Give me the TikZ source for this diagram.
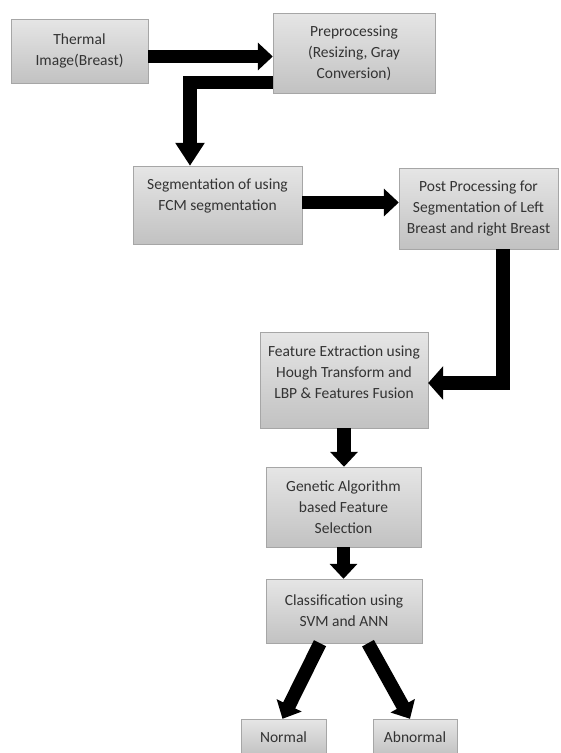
\documentclass[tikz,border=0pt]{standalone}
\usepackage{fontspec}
\setmainfont{Carlito}
\usetikzlibrary{arrows.meta}
\begin{document}
\begin{tikzpicture}[x=1pt,y=-1pt,
  every node/.style={font=\fontsize{15.5}{21}\selectfont,text=black!80},
  stage/.style={draw=black!35,top color=black!10,bottom color=black!24,align=center,inner sep=0pt},
  flow/.style={line width=13.5pt,-{Triangle[width=27pt,length=15pt]}}]
  \clip (0,0) rectangle (561,753);
  \node[stage,minimum width=137pt,minimum height=64pt] (thermal) at (79.5,51) {Thermal\\Image(Breast)};
  \node[stage,minimum width=162pt,minimum height=80pt] (prep) at (354,53) {Preprocessing\\(Resizing, Gray\\Conversion)};
  \node[stage,minimum width=169pt,text height=44pt,text depth=34pt] (seg) at (217.5,205) {Segmentation of using\\FCM segmentation};
  \node[stage,minimum width=159pt,minimum height=81pt] (post) at (478.5,208.5) {Post Processing for\\Segmentation of Left\\Breast and right Breast};
  \node[stage,minimum width=168pt,text height=66pt,text depth=30pt] (feat) at (344,380) {Feature Extraction using\\Hough Transform and\\LBP \& Features Fusion};
  \node[stage,minimum width=155pt,minimum height=80pt] (gen) at (343.5,507) {Genetic Algorithm\\based Feature\\Selection};
  \node[stage,minimum width=156pt,minimum height=64pt] (cls) at (344,611) {Classification using\\SVM and ANN};
  \node[stage,minimum width=85pt,minimum height=36pt] (normal) at (283.5,737) {Normal};
  \node[stage,minimum width=84pt,minimum height=36pt] (abnormal) at (415,737) {Abnormal};
  % block arrows
  \draw[flow] ([yshift=-5.5pt]thermal.east) -- ([yshift=-5.5pt]thermal.east -| prep.west);
  \draw[flow,-{Triangle[width=28pt,length=23pt]}] ([yshift=-29.5pt]prep.west) -| ([xshift=-27.5pt]seg.north);
  \draw[flow] ([yshift=2.5pt]seg.east) -- ([yshift=2.5pt]seg.east -| post.west);
  \draw[flow,-{Triangle[width=33pt,length=15pt]}] ([xshift=24.5pt]post.south) |- ([yshift=-3pt]feat.east);
  \draw[flow] (feat.south) -- (feat.south |- gen.north);
  \draw[flow] (gen.south) -- (gen.south |- cls.north);
  \draw[flow] ([xshift=-24pt]cls.south) -- ([xshift=-1pt]normal.north);
  \draw[flow] ([xshift=24pt]cls.south) -- ([xshift=-5pt]abnormal.north);
\end{tikzpicture}
\end{document}
